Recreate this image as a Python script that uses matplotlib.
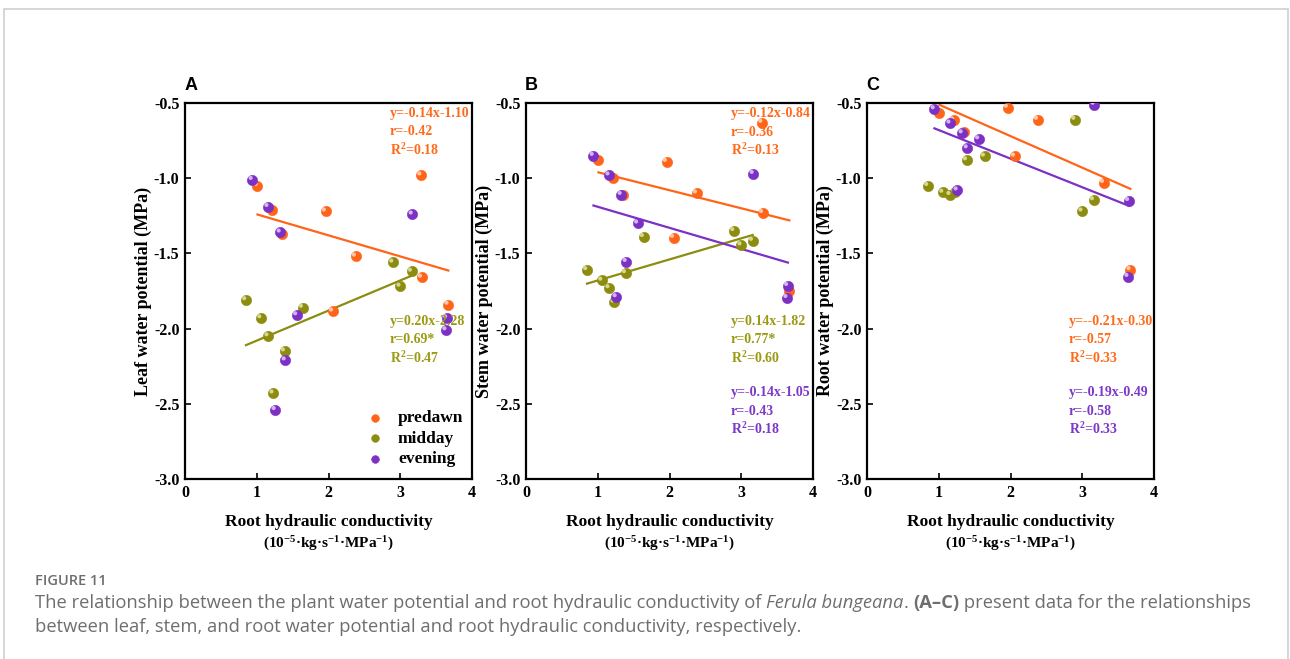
import numpy as np
import matplotlib
matplotlib.use("Agg")
import matplotlib.pyplot as plt
import matplotlib.transforms as mtransforms
from matplotlib.patches import Rectangle

plt.rcParams['font.family'] = ['Liberation Serif', 'DejaVu Serif']
plt.rcParams['font.weight'] = 'bold'
plt.rcParams['mathtext.fontset'] = 'custom'
plt.rcParams['mathtext.rm'] = 'Liberation Serif:bold'
plt.rcParams['mathtext.bf'] = 'Liberation Serif:bold'
plt.rcParams['mathtext.it'] = 'Liberation Serif:bold:italic'

# root hydraulic conductivity of each sample (10^-5 kg s-1 MPa-1)
predawn_x = [1.01, 1.21, 1.35, 1.96, 2.06, 2.38, 3.29, 3.30, 3.67]
midday_x = [0.85, 1.06, 1.16, 1.23, 1.39, 1.64, 2.90, 3.00, 3.16]
evening_x = [0.94, 1.16, 1.26, 1.33, 1.40, 1.56, 3.17, 3.64, 3.65]

# leaf water potential (MPa)
leaf_predawn = [-1.05, -1.21, -1.37, -1.22, -1.885, -1.52, -0.98, -1.66, -1.84]
leaf_midday = [-1.81, -1.93, -2.05, -2.43, -2.15, -1.86, -1.56, -1.72, -1.62]
leaf_evening = [-1.01, -1.19, -2.54, -1.36, -2.21, -1.91, -1.24, -2.01, -1.93]

# stem water potential (MPa)
stem_predawn = [-0.88, -1.00, -1.11, -0.89, -1.395, -1.10, -0.63, -1.23, -1.75]
stem_midday = [-1.61, -1.68, -1.73, -1.825, -1.63, -1.39, -1.35, -1.445, -1.415]
stem_evening = [-0.85, -0.98, -1.79, -1.11, -1.555, -1.30, -0.97, -1.795, -1.715]

# root water potential (MPa), one predawn value lies above the axis range
root_predawn = [-0.565, -0.615, -0.69, -0.53, -0.855, -0.61, np.nan, -1.03, -1.61]
root_midday = [-1.05, -1.095, -1.11, -1.09, -0.88, -0.855, -0.61, -1.22, -1.145]
root_evening = [-0.54, -0.635, -1.08, -0.70, -0.80, -0.74, -0.51, -1.655, -1.15]

# fitted lines (slope, intercept) and stats
leaf_fits = {"predawn": (-0.14, -1.10, "-0.42", "0.18"),
             "midday": (0.20, -2.28, "0.69*", "0.47")}
stem_fits = {"predawn": (-0.12, -0.84, "-0.36", "0.13"),
             "midday": (0.14, -1.82, "0.77*", "0.60"),
             "evening": (-0.14, -1.05, "-0.43", "0.18")}
root_fits = {"predawn": (-0.21, -0.30, "-0.57", "0.33"),
             "evening": (-0.19, -0.49, "-0.58", "0.33")}

y_labels = ["Leaf water potential (MPa)", "Stem water potential (MPa)",
            "Root water potential (MPa)"]
panel_letters = ["A", "B", "C"]
x_ticks = [0, 1, 2, 3, 4]
y_ticks = [-3.0, -2.5, -2.0, -1.5, -1.0, -0.5]

colors = {"predawn": "#ff6418", "midday": "#8c8c0e", "evening": "#7c30c4"}
text_colors = {"predawn": "#ff6a1a", "midday": "#9a9a14", "evening": "#7d38c8"}
highlight = {"predawn": "#ffc9a8", "midday": "#d6d690", "evening": "#d2b4f0"}

fig = plt.figure(figsize=(12.9, 6.59), dpi=100)

# grey frame around the figure
fig.patches.append(Rectangle((4 / 1290, -0.05), 1284 / 1290, 1 - 9 / 659 + 0.05,
                             transform=fig.transFigure, fill=False,
                             edgecolor="#cfcfcf", linewidth=1.2))

lefts = [185, 526, 867]
panels = [
    (leaf_predawn, leaf_midday, leaf_evening, leaf_fits,
     {"predawn": 0.973, "midday": 0.42}),
    (stem_predawn, stem_midday, stem_evening, stem_fits,
     {"predawn": 0.971, "midday": 0.42, "evening": 0.229}),
    (root_predawn, root_midday, root_evening, root_fits,
     {"predawn": 0.42, "evening": 0.229}),
]
text_x = [0.714, 0.714, 0.704]

for i, (yp, ym, ye, fits, text_y) in enumerate(panels):
    ax = fig.add_axes([lefts[i] / 1290, (659 - 479) / 659, 287 / 1290, 376 / 659])
    series = {"predawn": (predawn_x, yp), "midday": (midday_x, ym),
              "evening": (evening_x, ye)}

    for name, (f_slope, f_int, r, r2) in fits.items():
        xs = np.array(series[name][0])
        xline = np.array([xs.min(), xs.max()])
        ax.plot(xline, f_slope * xline + f_int, color=colors[name], lw=1.6, zorder=2)

    hl_trans = mtransforms.offset_copy(ax.transData, fig=fig, x=-1.3, y=1.3,
                                       units='points')
    handles = []
    for name, (xs, ys) in series.items():
        h = ax.scatter(xs, ys, s=55, color=colors[name], edgecolors=colors[name],
                       linewidths=0.4, zorder=3, label=name)
        ax.scatter(xs, ys, s=9, color=highlight[name], edgecolors='none',
                   zorder=3, transform=hl_trans)
        handles.append(h)

    for name, (f_slope, f_int, r, r2) in fits.items():
        lines = ["y=%s%.2fx%.2f" % ("-" if name == "predawn" and i == 2 else "",
                                   f_slope, f_int),
                 "r=" + r, "R$^{2}$=" + r2]
        for k, line in enumerate(lines):
            ax.text(text_x[i], text_y[name] - k * 0.0487, line, transform=ax.transAxes,
                    color=text_colors[name], fontsize=10, fontweight='bold',
                    va='center', ha='left')

    ax.set_xlim(0, 4)
    ax.set_ylim(-3.0, -0.5)
    ax.set_xticks(x_ticks)
    ax.set_yticks(y_ticks)
    ax.set_yticklabels(["%.1f" % v for v in y_ticks])
    ax.tick_params(direction='in', length=4, width=1.2, labelsize=11.5, pad=4)
    for sp in ax.spines.values():
        sp.set_linewidth(1.6)
    ax.set_ylabel(y_labels[i], fontsize=13, fontweight='bold')
    ax.yaxis.set_label_coords(-0.145, 0.5)
    ax.yaxis.label.set_va('center')
    ax.set_xlabel("Root hydraulic conductivity", fontsize=12.5, fontweight='bold',
                  labelpad=10)
    ax.text(0.5, -0.173, "(10$^{-5}$·kg·s$^{-1}$·MPa$^{-1}$)", transform=ax.transAxes,
            fontsize=11, fontweight='bold', ha='center', va='center')
    ax.text(-0.003, 1.035, panel_letters[i], transform=ax.transAxes,
            fontsize=13, fontweight='bold', family='Liberation Sans',
            ha='left', va='baseline')

    if i == 0:
        ax.legend(handles=handles, loc='lower right', bbox_to_anchor=(1.0, 0.008),
                  frameon=False, handlelength=1.0, handletextpad=0.85,
                  labelspacing=0.25, markerscale=0.75, borderaxespad=0.1,
                  prop={'weight': 'bold', 'size': 12.5})

# caption
cap_color = "#6e6e6e"
fig.text(35 / 1290, 1 - 581 / 659, "FIGURE 11", fontsize=10.5, color=cap_color,
         family='Open Sans', fontweight='semibold', va='center')
fig.canvas.draw()
renderer = fig.canvas.get_renderer()
pieces = [("The relationship between the plant water potential and root hydraulic "
           "conductivity of ", 'normal', 'normal'),
          ("Ferula bungeana", 'italic', 'normal'),
          (". ", 'normal', 'normal'),
          ("(A\u2013C)", 'normal', 'bold'),
          (" present data for the relationships", 'normal', 'normal')]
xpos = 35
for txt, style, weight in pieces:
    t = fig.text(xpos / 1290, 1 - 603 / 659, txt, fontsize=13.25, color=cap_color,
                 family='Open Sans', style=style, fontweight=weight, va='center')
    xpos += t.get_window_extent(renderer).width
fig.text(35 / 1290, 1 - 627 / 659,
         "between leaf, stem, and root water potential and root hydraulic "
         "conductivity, respectively.", fontsize=13.25, color=cap_color,
         family='Open Sans', fontweight='normal', va='center')

fig.savefig("out.png", dpi=100)
